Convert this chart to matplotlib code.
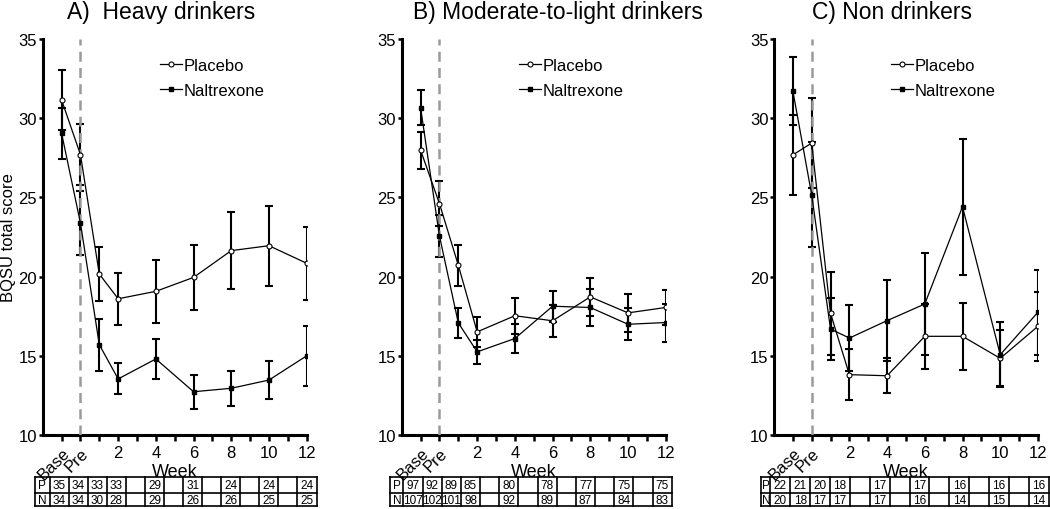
import numpy as np
import matplotlib.pyplot as plt
import matplotlib.transforms as mtransforms

plt.rcParams['font.family'] = ['Liberation Sans', 'DejaVu Sans']

# Time points: Base, Pre, then study weeks
x_pos = [-1, 0, 1, 2, 4, 6, 8, 10, 12]
x_ticks = list(range(-1, 13))
x_ticklabels = ['Base', 'Pre', '', '2', '', '4', '', '6', '', '8', '', '10', '', '12']

titles = ['A)  Heavy drinkers', 'B) Moderate-to-light drinkers', 'C) Non drinkers']

# A) Heavy drinkers - mean and SEM
heavy_placebo = [31.15, 27.7, 20.16, 18.6, 19.07, 19.95, 21.64, 21.95, 20.84]
heavy_placebo_sem = [1.9, 1.93, 1.68, 1.65, 1.97, 2.05, 2.45, 2.52, 2.3]
heavy_naltrexone = [29.05, 23.38, 15.7, 13.54, 14.8, 12.73, 12.95, 13.47, 15.0]
heavy_naltrexone_sem = [1.6, 2.0, 1.63, 0.98, 1.27, 1.08, 1.1, 1.2, 1.9]

# B) Moderate-to-light drinkers
moderate_placebo = [27.98, 24.61, 20.72, 16.51, 17.53, 17.21, 18.72, 17.71, 18.05]
moderate_placebo_sem = [1.17, 1.41, 1.3, 0.95, 1.15, 1.0, 1.2, 1.18, 1.1]
moderate_naltrexone = [30.66, 22.57, 17.08, 15.25, 16.09, 18.13, 18.05, 16.99, 17.1]
moderate_naltrexone_sem = [1.1, 1.31, 0.95, 0.75, 0.9, 0.97, 1.14, 1.0, 1.2]

# C) Non drinkers
non_placebo = [27.68, 28.43, 17.68, 13.81, 13.74, 16.23, 16.23, 14.84, 16.86]
non_placebo_sem = [2.54, 2.85, 2.63, 1.62, 1.12, 2.05, 2.1, 1.76, 2.19]
non_naltrexone = [31.74, 25.17, 16.69, 16.12, 17.22, 18.27, 24.41, 15.07, 17.75]
non_naltrexone_sem = [2.14, 3.3, 1.94, 2.1, 2.57, 3.2, 4.28, 2.05, 2.69]

# Number of subjects at each time point (P = placebo, N = naltrexone)
heavy_n_placebo = [35, 34, 33, 33, 29, 31, 24, 24, 24]
heavy_n_naltrexone = [34, 34, 30, 28, 29, 26, 26, 25, 25]
moderate_n_placebo = [97, 92, 89, 85, 80, 78, 77, 75, 75]
moderate_n_naltrexone = [107, 102, 101, 98, 92, 89, 87, 84, 83]
non_n_placebo = [22, 21, 20, 18, 17, 17, 16, 16, 16]
non_n_naltrexone = [20, 18, 17, 17, 17, 16, 14, 15, 14]

panels = [
    (heavy_placebo, heavy_placebo_sem, heavy_naltrexone, heavy_naltrexone_sem,
     heavy_n_placebo, heavy_n_naltrexone),
    (moderate_placebo, moderate_placebo_sem, moderate_naltrexone, moderate_naltrexone_sem,
     moderate_n_placebo, moderate_n_naltrexone),
    (non_placebo, non_placebo_sem, non_naltrexone, non_naltrexone_sem,
     non_n_placebo, non_n_naltrexone),
]

# layout (figure fractions) and table extents in data units
ax_lefts = [0.0407, 0.3826, 0.7371]
title_x = [0.092, 0.043, 0.143]
table_x = [(-2.43, -1.63, 12.52), (-2.61, -1.91, 12.32), (-2.67, -2.19, 12.57)]

fig = plt.figure(figsize=(10.5, 5.1), dpi=100)

for i, (p, p_sem, n, n_sem, np_, nn_) in enumerate(panels):
    ax = fig.add_axes([ax_lefts[i], 0.1451, 0.2514, 0.7765])

    # error bars first, lines on top
    ax.errorbar(x_pos, p, yerr=p_sem, fmt='none', ecolor='black', elinewidth=1.5,
                capsize=2.7, capthick=1.5, zorder=2)
    ax.errorbar(x_pos, n, yerr=n_sem, fmt='none', ecolor='black', elinewidth=1.5,
                capsize=2.7, capthick=1.5, zorder=2)
    ax.axvline(0, ymin=0, ymax=1, color='#9a9a9a', linestyle=(0, (4, 2.5)), lw=1.8, zorder=3)
    ax.plot(x_pos, p, color='black', lw=0.9, marker='o', ms=3.6, mfc='white',
            mec='black', mew=0.8, label='Placebo', zorder=4)
    ax.plot(x_pos, n, color='black', lw=0.9, marker='s', ms=3.4, mfc='black',
            mec='black', label='Naltrexone', zorder=4)

    ax.set_xlim(-2, 12)
    ax.set_ylim(10, 35)
    ax.set_yticks([10, 15, 20, 25, 30, 35])
    ax.set_xticks(x_ticks)
    ax.set_xticklabels(x_ticklabels, fontsize=12)
    for lab in ax.get_xticklabels()[:2]:
        lab.set_rotation(45)
        lab.set_ha('right')
        lab.set_rotation_mode('anchor')
    ax.tick_params(axis='y', labelsize=12, length=3, width=1.8, pad=1)
    ax.tick_params(axis='x', length=4, width=1.8, pad=3)
    for s in ['top', 'right']:
        ax.spines[s].set_visible(False)
    for s in ['left', 'bottom']:
        ax.spines[s].set_linewidth(2.2)

    ax.legend(loc='upper left', bbox_to_anchor=(0.445, 0.952), frameon=False,
              fontsize=12, handlelength=1.3, handletextpad=0.1, labelspacing=0.6,
              borderaxespad=0, borderpad=0)

    ax.text(title_x[i], 1.053, titles[i], transform=ax.transAxes, fontsize=16.5,
            ha='left', va='baseline')
    ax.text(0.5, -0.092, 'Week', transform=ax.transAxes, fontsize=13,
            ha='center', va='center')
    if i == 0:
        ax.set_ylabel('BQSU total score', fontsize=12, labelpad=2)

    # table of subject numbers under the axis
    trans = mtransforms.blended_transform_factory(ax.transData, ax.transAxes)
    xl, x0, x1 = table_x[i]
    edges = np.linspace(x0, x1, 15)
    y_top, y_mid, y_bot = -0.106, -0.147, -0.179
    for yy in [y_top, y_mid, y_bot]:
        ax.plot([xl, x1], [yy, yy], color='black', lw=1.2, transform=trans, clip_on=False)
    for xx in [xl] + list(edges):
        ax.plot([xx, xx], [y_top, y_bot], color='black', lw=1.2, transform=trans, clip_on=False)
    for row_label, vals, yc in [('P', np_, (y_top + y_mid) / 2), ('N', nn_, (y_mid + y_bot) / 2)]:
        ax.text((xl + x0) / 2, yc, row_label, transform=trans, fontsize=8.5,
                ha='center', va='center')
        for xv, v in zip(x_pos, vals):
            k = xv + 1
            ax.text((edges[k] + edges[k + 1]) / 2, yc, str(v), transform=trans,
                    fontsize=8.5, ha='center', va='center')

plt.savefig('out.png', dpi=100)
